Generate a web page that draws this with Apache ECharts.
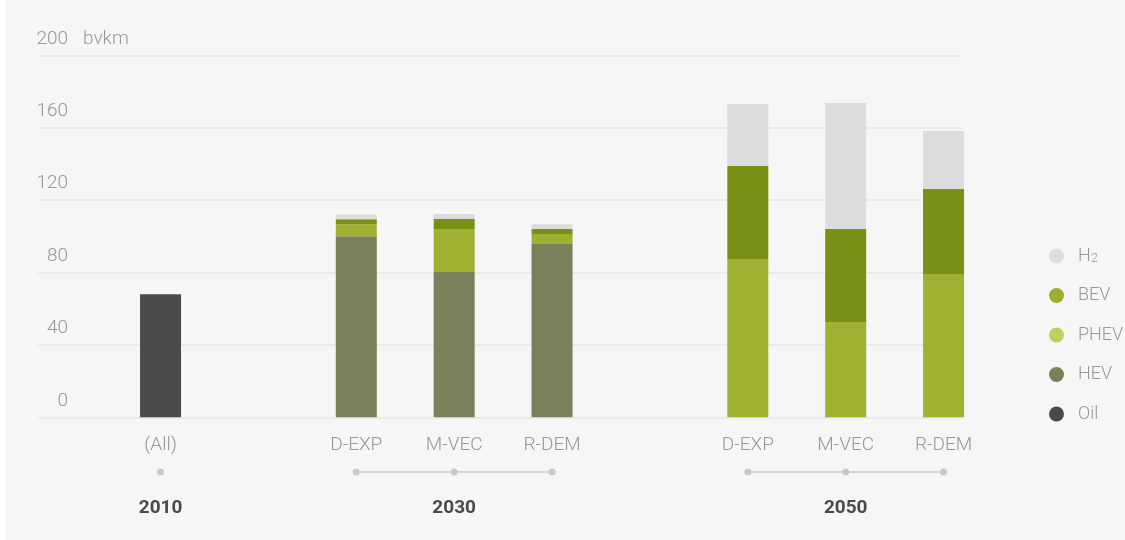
<!DOCTYPE html>
<html>
<head>
<meta charset="utf-8">
<script src="https://cdn.jsdelivr.net/npm/echarts@6/dist/echarts.min.js"></script>
<style>
html,body{margin:0;padding:0;background:#fff;}
#c{width:1125px;height:540px;background:linear-gradient(to right,#ffffff 6px,#f6f6f6 6px);}
</style>
</head>
<body>
<div id="c"></div>
<script>
const categories = ['(All)', '', 'D-EXP', 'M-VEC', 'R-DEM', '', 'D-EXP', 'M-VEC', 'R-DEM'];
const yearLabels = ['2010', '', '', '2030', '', '', '', '2050', ''];
const oil  = [68, null, 0, 0, 0, null, 0, 0, 0];
const hev  = [0, null, 100, 80.3, 95.7, null, 0, 0, 0];
const phev = [0, null, 6.6, 23.7, 5.6, null, 87.5, 52.7, 79.2];
const bev  = [0, null, 2.8, 5.6, 2.7, null, 51.4, 51.4, 47];
const h2   = [0, null, 2.7, 2.7, 2.7, null, 34.2, 69.6, 32];
const yTicks = [0, 40, 80, 120, 160, 200];

const FONT = "Roboto, sans-serif";
const LABEL = '#979797';
const chart = echarts.init(document.getElementById('c'));
const gridTop = 55.3, gridBottom = 122.7;
const dotsData = categories.map(c => c ? 0 : null);

chart.setOption({
  animation: false,
  textStyle: {fontFamily: FONT, fontWeight: 300},
  grid: [
    {left: 38, right: 162, top: gridTop, bottom: gridBottom},
    {left: 111.6, right: 132.5, top: gridTop, bottom: gridBottom},
    {left: 111.6, right: 132.5, top: 462, height: 20}
  ],
  xAxis: [
    {gridIndex: 0, type: 'category', data: categories, show: false},
    {gridIndex: 1, type: 'category', data: categories,
     axisLine: {show: false}, axisTick: {show: false},
     axisLabel: {interval: 0, color: LABEL, fontSize: 19, fontWeight: 300, margin: 18}},
    {gridIndex: 2, type: 'category', data: yearLabels,
     axisLine: {show: false}, axisTick: {show: false},
     axisLabel: {interval: 0, color: '#4a4a4a', fontSize: 19, fontWeight: 'bold', margin: 17}}
  ],
  yAxis: [
    {gridIndex: 0, type: 'value', min: yTicks[0], max: yTicks[yTicks.length - 1], interval: 40,
     axisLine: {show: false}, axisTick: {show: false},
     splitLine: {lineStyle: {color: '#e6e6e6', width: 1.5}},
     axisLabel: {inside: true, align: 'right', margin: 30, color: LABEL, fontSize: 19, fontWeight: 300,
                 verticalAlign: 'bottom', lineHeight: 33},
     name: 'bvkm', nameLocation: 'end', nameGap: 16,
     nameTextStyle: {align: 'left', verticalAlign: 'middle', color: LABEL, fontSize: 19, fontWeight: 300, padding: [0, 0, 0, 45]}},
    {gridIndex: 1, type: 'value', min: 0, max: 200, show: false},
    {gridIndex: 2, type: 'value', min: -1, max: 1, show: false}
  ],
  legend: {
    orient: 'vertical', left: 1044, top: 241,
    icon: 'circle', itemWidth: 15, itemHeight: 15, itemGap: 19.5,
    textStyle: {color: LABEL, fontSize: 18, fontWeight: 300, lineHeight: 20, padding: [0, 0, 0, 9],
                rich: {sub: {fontSize: 13, fontWeight: 300, color: LABEL, lineHeight: 14, padding: [6, 0, 0, 0]}}},
    formatter: n => n === 'H2' ? 'H{sub|2}' : n,
    selectedMode: false,
    data: [
      {name: 'H2', itemStyle: {color: '#dedede'}},
      {name: 'BEV', itemStyle: {color: '#9fae2e'}},
      {name: 'PHEV', itemStyle: {color: '#c0cf5c'}},
      {name: 'HEV', itemStyle: {color: '#7a7f58'}},
      {name: 'Oil', itemStyle: {color: '#4a4a4a'}}
    ]
  },
  series: [
    {name: 'Oil', type: 'bar', stack: 't', xAxisIndex: 1, yAxisIndex: 1, barWidth: 41, data: oil, itemStyle: {color: '#4a4a48'}},
    {name: 'HEV', type: 'bar', stack: 't', xAxisIndex: 1, yAxisIndex: 1, barWidth: 41, data: hev, itemStyle: {color: '#7a8059'}},
    {name: 'PHEV', type: 'bar', stack: 't', xAxisIndex: 1, yAxisIndex: 1, barWidth: 41, data: phev, itemStyle: {color: '#a0b030'}},
    {name: 'BEV', type: 'bar', stack: 't', xAxisIndex: 1, yAxisIndex: 1, barWidth: 41, data: bev, itemStyle: {color: '#789114'}},
    {name: 'H2', type: 'bar', stack: 't', xAxisIndex: 1, yAxisIndex: 1, barWidth: 41, data: h2, itemStyle: {color: '#dcdcdc'}},
    {name: 'axis', type: 'line', xAxisIndex: 2, yAxisIndex: 2, data: dotsData,
     symbol: 'circle', symbolSize: 7, showSymbol: true, connectNulls: false,
     itemStyle: {color: '#c8c8c8'}, lineStyle: {color: '#cccccc', width: 1.5}, silent: true}
  ]
});
</script>
</body>
</html>
